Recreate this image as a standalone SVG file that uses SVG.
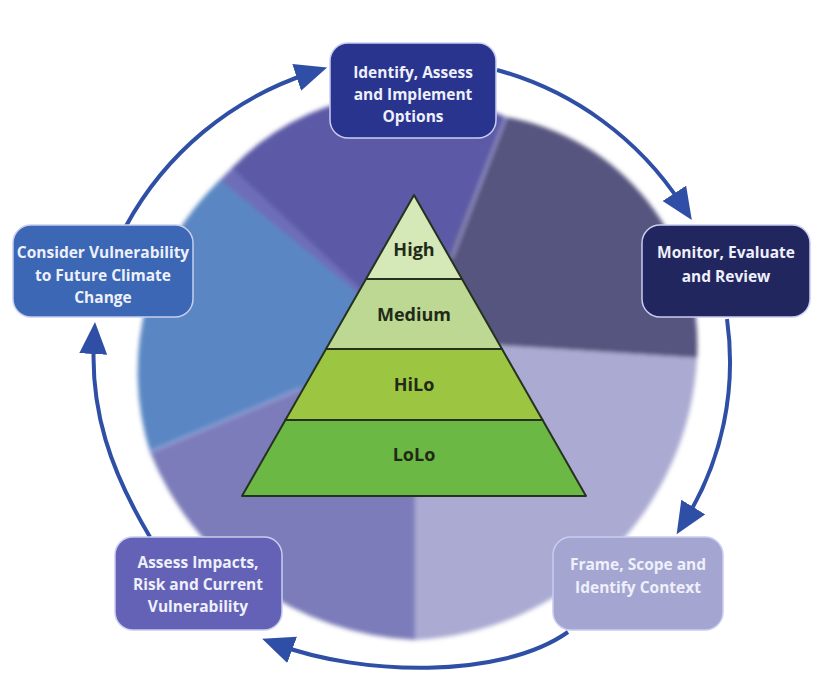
<svg xmlns="http://www.w3.org/2000/svg" width="827" height="685" viewBox="0 0 827 685">
<style>
.bt{font-family:"Open Sans","Liberation Sans",sans-serif;font-weight:700;font-size:15.5px;text-anchor:middle;fill:#eef0fb}
.pt{font-family:"Open Sans","Liberation Sans",sans-serif;font-weight:700;font-size:18px;text-anchor:middle;fill:#1f2a17}
.box{stroke:#c9cdf0;stroke-width:1.5}
.lay{stroke:#26321f;stroke-width:2;stroke-linejoin:round}
.arr{fill:none;stroke:#2e4fa5;stroke-width:4;marker-end:url(#ah)}
</style>
<defs>
<filter id="soft" filterUnits="userSpaceOnUse" x="0" y="0" width="827" height="685">
<feGaussianBlur stdDeviation="2.2"/>
</filter>
<marker id="ah" markerUnits="userSpaceOnUse" markerWidth="34" markerHeight="30" refX="14" refY="14" orient="auto">
<path d="M0,0 L32,14 L0,28 Z" fill="#2e4fa5"/>
</marker>
</defs>
<rect width="827" height="685" fill="#ffffff"/>
<g id="pie" filter="url(#soft)">
<path d="M415,340 L214,186 L236,164 Z" fill="#6e6eb8"/>
<path d="M415,340 L232,168 A237 237 0 0 1 506,117 Z" fill="#5c5aa6"/>
<path d="M415,340 L506,117 A231 231 0 0 1 697,358 Z" fill="#57547f"/>
<path d="M415,340 L697,358 A298 298 0 0 1 415,640 Z" fill="#aaaad3"/>
<path d="M415,340 L415,640 A300 300 0 0 1 150,452 Z" fill="#7b7bba"/>
<path d="M415,340 L150,452 A265 265 0 0 1 220,180 Z" fill="#5a87c3"/>
<line x1="506" y1="117" x2="452" y2="258" stroke="#a4a2d8" stroke-width="2.5" opacity="0.8"/>
<line x1="150" y1="452" x2="300" y2="389" stroke="#9aa8dc" stroke-width="3" opacity="0.7"/>
</g>
<g id="connectors">
<path class="arr" d="M126,226 A324 324 0 0 1 310,73"/>
<path class="arr" d="M497,70 A322 322 0 0 1 682,205"/>
<path class="arr" d="M727,319 C737,390 722,460 686,519"/>
<path class="arr" d="M568,632 C500,680 360,675 279,645"/>
<path class="arr" d="M150,537 C110,470 90,410 94,340"/>
</g>
<g id="node-identify">
<rect class="box" x="330" y="43" width="166" height="95" rx="18" fill="#29348f"/>
<text class="bt" x="413" y="78">Identify, Assess</text>
<text class="bt" x="413" y="100">and Implement</text>
<text class="bt" x="413" y="122">Options</text>
</g>
<g id="node-monitor">
<rect class="box" x="642" y="225" width="168" height="92" rx="18" fill="#22265e"/>
<text class="bt" x="726" y="258">Monitor, Evaluate</text>
<text class="bt" x="726" y="282">and Review</text>
</g>
<g id="node-frame">
<rect class="box" x="553" y="537" width="170" height="93" rx="18" fill="#a5a5d1"/>
<text class="bt" x="638" y="570">Frame, Scope and</text>
<text class="bt" x="638" y="593">Identify Context</text>
</g>
<g id="node-assess">
<rect class="box" x="115" y="537" width="167" height="93" rx="18" fill="#6462b6"/>
<text class="bt" x="198" y="568">Assess Impacts,</text>
<text class="bt" x="198" y="590">Risk and Current</text>
<text class="bt" x="198" y="612">Vulnerability</text>
</g>
<g id="node-consider">
<rect class="box" x="13" y="225" width="180" height="92" rx="18" fill="#3b67b4"/>
<text class="bt" x="103" y="258">Consider Vulnerability</text>
<text class="bt" x="103" y="281">to Future Climate</text>
<text class="bt" x="103" y="303">Change</text>
</g>
<g id="pyramid">
<g id="layer-high">
<polygon class="lay" points="414,195 462,279 366,279" fill="#d5e8b8"/>
<text class="pt" x="414" y="256">High</text>
</g>
<g id="layer-medium">
<polygon class="lay" points="366,279 462,279 502,349 326,349" fill="#bcd893"/>
<text class="pt" x="414" y="321">Medium</text>
</g>
<g id="layer-hilo">
<polygon class="lay" points="326,349 502,349 542.6,420 285.4,420" fill="#9cc642"/>
<text class="pt" x="414" y="391">HiLo</text>
</g>
<g id="layer-lolo">
<polygon class="lay" points="285.4,420 542.6,420 586,496 242,496" fill="#6cb844"/>
<text class="pt" x="414" y="461">LoLo</text>
</g>
</g>
</svg>
